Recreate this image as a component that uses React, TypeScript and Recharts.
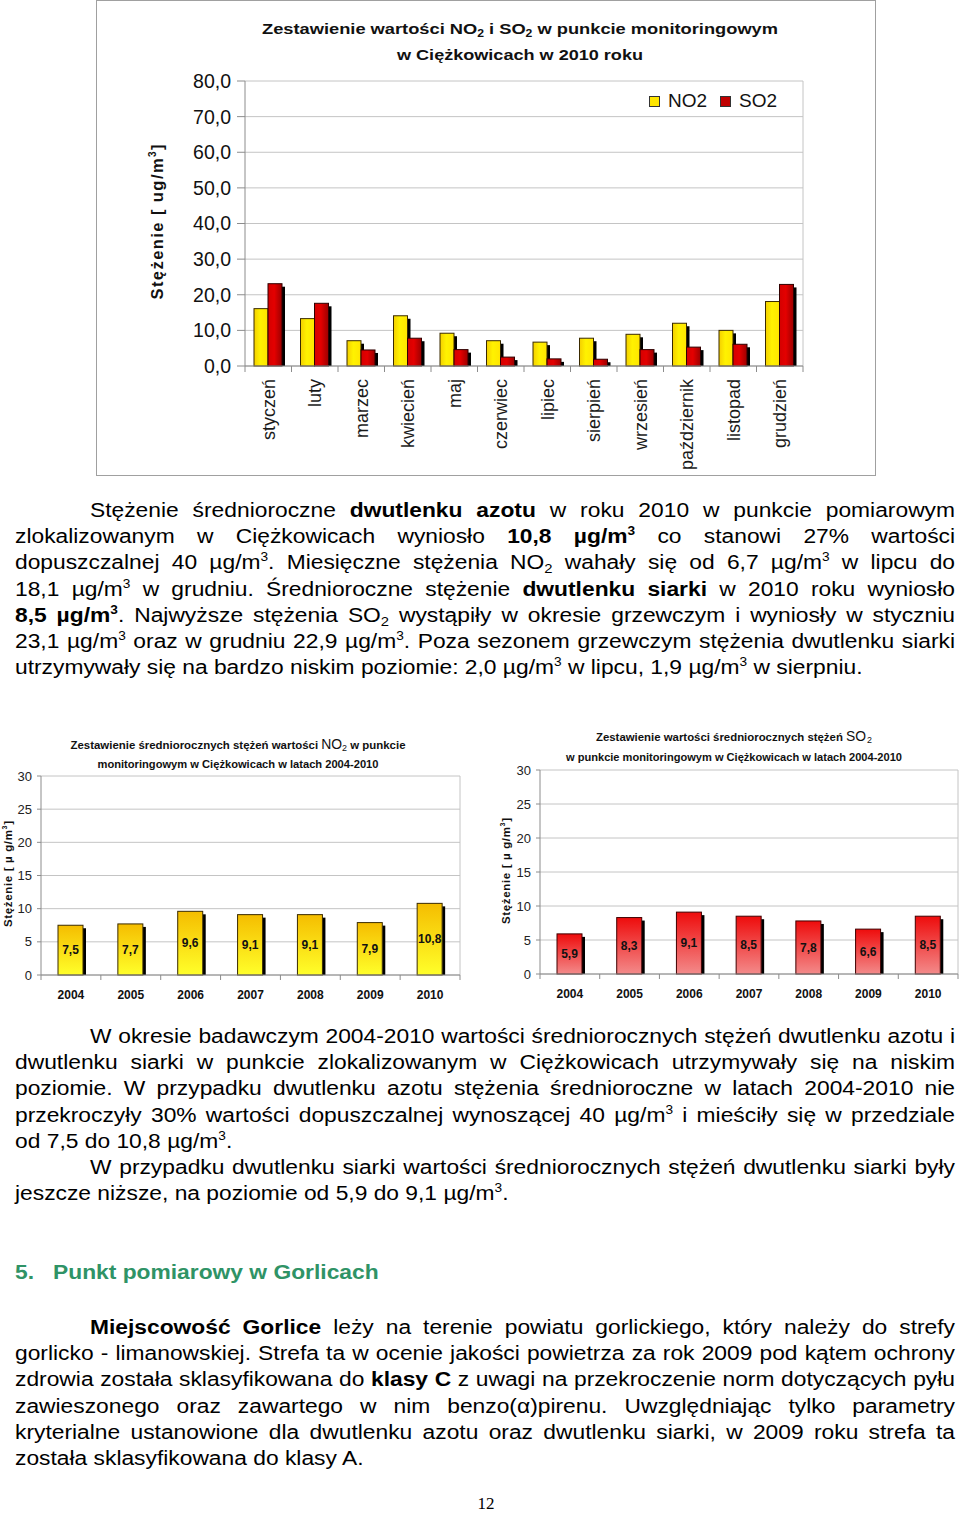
import React from 'react';
import { Bar, BarChart, CartesianGrid, LabelList, Legend, XAxis, YAxis } from 'recharts';

const months = [
  'styczeń',
  'luty',
  'marzec',
  'kwiecień',
  'maj',
  'czerwiec',
  'lipiec',
  'sierpień',
  'wrzesień',
  'październik',
  'listopad',
  'grudzień',
];
const no2Monthly = [16.1, 13.3, 7.1, 14.1, 9.2, 7.1, 6.7, 7.8, 8.9, 12.0, 10.0, 18.1];
const so2Monthly = [23.1, 17.6, 4.5, 7.8, 4.6, 2.5, 2.0, 1.9, 4.6, 5.3, 6.1, 22.9];
const monthlyTicks = [0, 10, 20, 30, 40, 50, 60, 70, 80];

const years = ['2004', '2005', '2006', '2007', '2008', '2009', '2010'];
const no2Annual = [7.5, 7.7, 9.6, 9.1, 9.1, 7.9, 10.8];
const so2Annual = [5.9, 8.3, 9.1, 8.5, 7.8, 6.6, 8.5];
const annualTicks = [0, 5, 10, 15, 20, 25, 30];

const FONT = "'Liberation Sans', Arial, Helvetica, sans-serif";
const NARROW = "'Liberation Sans Narrow', 'Liberation Sans', Arial, sans-serif";
const AXIS = '#8c8c8c';
const GRID = '#c4c4c4';
// tekst w oryginale jest lekko rozciągnięty w poziomie
const STRETCH = 1.14;

const monthlyRows = months.map((month, i) => ({ month, no2: no2Monthly[i], so2: so2Monthly[i] }));
const no2Rows = years.map((year, i) => ({ year, value: no2Annual[i] }));
const so2Rows = years.map((year, i) => ({ year, value: so2Annual[i] }));

const comma1 = (v: number) => v.toFixed(1).replace('.', ',');
const comma = (v: number) => String(v).replace('.', ',');

const rightBorder = ({ offset }: any) => [offset.left + offset.width];

// kolumna 3D: czarny bok z prawej strony
const column3D = (gradientId: string, depth: number, edge: string) => (props: any) => {
  const { x, y, width, height } = props;
  if (!height || height <= 0) return <g />;
  return (
    <g>
      <rect x={x + width} y={y + depth} width={depth} height={height - depth} fill="#000" />
      <rect x={x} y={y} width={width} height={height} fill={`url(#${gradientId})`} stroke={edge} strokeWidth={1} />
    </g>
  );
};

const MonthTick = (props: any) => {
  const { x, y, payload, index, visibleTicksCount, width } = props;
  const half = payload?.offset || width / visibleTicksCount / 2;
  return (
    <g>
      <line x1={x - half} x2={x - half} y1={y - 8} y2={y - 2} stroke={AXIS} />
      {index === visibleTicksCount - 1 && <line x1={x + half} x2={x + half} y1={y - 8} y2={y - 2} stroke={AXIS} />}
      <text
        x={x}
        y={y + 5}
        transform={`rotate(-90, ${x}, ${y + 5})`}
        textAnchor="end"
        dy="0.35em"
        fontSize={18}
        fontFamily={FONT}
        fill="#1a1a1a"
      >
        {payload.value}
      </text>
    </g>
  );
};

const YearTick = (props: any) => {
  const { x, y, payload, index, visibleTicksCount, width } = props;
  const half = payload?.offset || width / visibleTicksCount / 2;
  return (
    <g>
      <line x1={x - half} x2={x - half} y1={y - 7} y2={y - 2} stroke={AXIS} />
      {index === visibleTicksCount - 1 && <line x1={x + half} x2={x + half} y1={y - 7} y2={y - 2} stroke={AXIS} />}
      <text x={x} y={y + 13} textAnchor="middle" dy="0.35em" fontSize={12} fontWeight="bold" fontFamily={NARROW} fill="#111">
        {payload.value}
      </text>
    </g>
  );
};

const MonthlyLegend = (props: any) => (
  <div style={{ display: 'flex', fontFamily: FONT, fontSize: 19, color: '#111', lineHeight: '22px' }}>
    {(props.payload || []).map((entry: any) => (
      <span key={entry.value} style={{ display: 'flex', alignItems: 'center', marginRight: 13 }}>
        <span
          style={{
            display: 'inline-block',
            width: 9,
            height: 9,
            background: entry.color,
            border: '1px solid #333',
            marginRight: 8,
          }}
        />
        {entry.value}
      </span>
    ))}
  </div>
);

const MonthlyChart = () => (
  <div style={{ position: 'absolute', left: 96, top: 0, width: 779, height: 475 }}>
    <BarChart
      width={779}
      height={475}
      data={monthlyRows}
      margin={{ top: 81, right: 72, bottom: 9, left: 79 }}
      barGap={0}
      barSize={14}
    >
      <defs>
        <linearGradient id="no2Month" x1="0" y1="0" x2="1" y2="0">
          <stop offset="0" stopColor="#f4cf00" />
          <stop offset="0.45" stopColor="#fff200" />
          <stop offset="1" stopColor="#ffe500" />
        </linearGradient>
        <linearGradient id="so2Month" x1="0" y1="0" x2="1" y2="0">
          <stop offset="0" stopColor="#d40000" />
          <stop offset="0.45" stopColor="#e40000" />
          <stop offset="1" stopColor="#9c0000" />
        </linearGradient>
      </defs>
      <CartesianGrid stroke={GRID} verticalCoordinatesGenerator={rightBorder} />
      <XAxis
        dataKey="month"
        interval={0}
        height={100}
        tickLine={false}
        axisLine={{ stroke: AXIS }}
        tick={MonthTick}
      />
      <YAxis
        domain={[0, 80]}
        ticks={monthlyTicks}
        interval={0}
        width={70}
        tickSize={8}
        tickMargin={6}
        tickFormatter={comma1}
        tick={{ fontSize: 19.5, fill: '#111', fontFamily: FONT }}
        axisLine={{ stroke: AXIS }}
        tickLine={{ stroke: AXIS }}
      />
      <Legend
        layout="horizontal"
        verticalAlign="middle"
        align="center"
        content={MonthlyLegend}
        wrapperStyle={{ top: 90, left: 553, width: 'auto', height: 'auto' }}
      />
      <Bar dataKey="no2" name="NO2" fill="#ffe600" shape={column3D('no2Month', 3, '#3a2a00')} isAnimationActive={false} />
      <Bar dataKey="so2" name="SO2" fill="#c00000" shape={column3D('so2Month', 3, '#300000')} isAnimationActive={false} />
    </BarChart>
  </div>
);

interface AnnualChartProps {
  rows: { year: string; value: number }[];
  left: number;
  top: number;
  height: number;
  plotTop: number;
  plotBottom: number;
  yAxisWidth: number;
  gradientId: string;
  colors: [string, string];
  edge: string;
}

const AnnualChart = ({ rows, left, top, height, plotTop, plotBottom, yAxisWidth, gradientId, colors, edge }: AnnualChartProps) => (
  <div style={{ position: 'absolute', left, top, width: 462, height }}>
    <BarChart
      width={462}
      height={height}
      data={rows}
      margin={{ top: plotTop, right: 2, bottom: height - plotBottom - 30, left: 0 }}
      barSize={25}
    >
      <defs>
        <linearGradient id={gradientId} x1="0" y1="0" x2="0" y2="1">
          <stop offset="0" stopColor={colors[0]} />
          <stop offset="1" stopColor={colors[1]} />
        </linearGradient>
      </defs>
      <CartesianGrid stroke={GRID} verticalCoordinatesGenerator={rightBorder} />
      <XAxis dataKey="year" interval={0} height={30} tickLine={false} tickSize={5} tickMargin={2} axisLine={{ stroke: AXIS }} tick={YearTick} />
      <YAxis
        domain={[0, 30]}
        ticks={annualTicks}
        interval={0}
        width={yAxisWidth}
        tickSize={4}
        tickMargin={5}
        tick={{ fontSize: 13, fill: '#222', fontFamily: NARROW }}
        axisLine={{ stroke: AXIS }}
        tickLine={{ stroke: AXIS }}
      />
      <Bar dataKey="value" fill={colors[0]} shape={column3D(gradientId, 3, edge)} isAnimationActive={false}>
        <LabelList
          dataKey="value"
          position="center"
          formatter={(v: any) => comma(Number(v))}
          style={{ fontSize: 12, fontWeight: 'bold', fontFamily: NARROW, fill: '#111' }}
        />
      </Bar>
    </BarChart>
  </div>
);

const Sup = ({ children }: { children: React.ReactNode }) => (
  <sup style={{ fontSize: 12, lineHeight: 0, verticalAlign: 'baseline', position: 'relative', top: -8 }}>{children}</sup>
);
const Sub = ({ children }: { children: React.ReactNode }) => (
  <sub style={{ fontSize: 13, lineHeight: 0, verticalAlign: 'baseline', position: 'relative', top: 4 }}>{children}</sub>
);

const Ln = ({ children, last, indent }: { children: React.ReactNode; last?: boolean; indent?: boolean }) => (
  <div
    style={{
      textAlign: last ? 'left' : 'justify',
      textAlignLast: last ? 'left' : 'justify',
      paddingLeft: indent ? 75 / STRETCH : 0,
      height: 26.2,
    }}
  >
    {children}
  </div>
);

const Para = ({ top, children }: { top: number; children: React.ReactNode }) => (
  <div
    style={{
      position: 'absolute',
      left: 15,
      top,
      width: 940 / STRETCH,
      transform: `scaleX(${STRETCH})`,
      transformOrigin: '0 0',
      fontFamily: FONT,
      fontSize: 20,
      lineHeight: '26.2px',
      color: '#000',
    }}
  >
    {children}
  </div>
);

const ug = (
  <>
    µg/m<Sup>3</Sup>
  </>
);

export default function App() {
  return (
    <div style={{ position: 'absolute', left: 0, top: 0, width: 960, height: 1514, background: '#fff', overflow: 'hidden' }}>
      <div
        style={{
          position: 'absolute',
          left: 96,
          top: 0,
          width: 780,
          height: 476,
          border: '1px solid #a0a0a0',
          boxSizing: 'border-box',
        }}
      />
      <MonthlyChart />
      <AnnualChart
        rows={no2Rows}
        left={0}
        top={720}
        height={290}
        plotTop={56}
        plotBottom={255}
        yAxisWidth={41}
        gradientId="no2Year"
        colors={['#f5bd00', '#ffff2a']}
        edge="#3a2a00"
      />
      <AnnualChart
        rows={so2Rows}
        left={498}
        top={715}
        height={295}
        plotTop={55}
        plotBottom={259}
        yAxisWidth={42}
        gradientId="so2Year"
        colors={['#ee0c0c', '#f38a8a']}
        edge="#400000"
      />

      <svg width={960} height={1514} style={{ position: 'absolute', left: 0, top: 0, pointerEvents: 'none' }}>
        <g fontFamily={NARROW} fontWeight="bold" fill="#111" textAnchor="middle">
          <text x={520} y={34} fontSize={15} textLength={516} lengthAdjust="spacingAndGlyphs">
            Zestawienie wartości NO
            <tspan fontSize={10} dy={3}>2</tspan>
            <tspan dy={-3}> i SO</tspan>
            <tspan fontSize={10} dy={3}>2</tspan>
            <tspan dy={-3}> w punkcie monitoringowym</tspan>
          </text>
          <text x={520} y={60} fontSize={15} textLength={246} lengthAdjust="spacingAndGlyphs">
            w Ciężkowicach w 2010 roku
          </text>
          <text
            x={157}
            y={222}
            fontSize={16.5}
            transform="rotate(-90, 157, 222)"
            dy="0.35em"
            fontFamily={FONT}
            textLength={155}
            lengthAdjust="spacing"
          >
            Stężenie [  ug/m
            <tspan fontSize={10} dy={-7}>3</tspan>
            <tspan dy={7}>]</tspan>
          </text>

          <text x={238} y={749} fontSize={11.5} textLength={335} lengthAdjust="spacingAndGlyphs">
            Zestawienie średniorocznych stężeń wartości <tspan fontSize={14} fontWeight="normal">NO</tspan>
            <tspan fontSize={9} dy={2} fontWeight="normal">2</tspan>
            <tspan dy={-2}> w punkcie</tspan>
          </text>
          <text x={238} y={768} fontSize={11.5} textLength={281} lengthAdjust="spacingAndGlyphs">
            monitoringowym w Ciężkowicach w latach 2004-2010
          </text>
          <text
            x={8}
            y={874}
            fontSize={11.5}
            transform="rotate(-90, 8, 874)"
            dy="0.35em"
            textLength={106}
            lengthAdjust="spacing"
          >
            Stężenie [  µ g/m
            <tspan fontSize={7} dy={-5}>3</tspan>
            <tspan dy={5}>]</tspan>
          </text>

          <text x={734} y={741} fontSize={11.5} textLength={276} lengthAdjust="spacingAndGlyphs">
            Zestawienie wartości średniorocznych stężeń <tspan fontSize={14} fontWeight="normal">SO</tspan>
            <tspan fontSize={9} dx={1} dy={2} fontWeight="normal">2</tspan>
          </text>
          <text x={734} y={761} fontSize={11.5} textLength={336} lengthAdjust="spacingAndGlyphs">
            w punkcie monitoringowym w Ciężkowicach w latach 2004-2010
          </text>
          <text
            x={506}
            y={871}
            fontSize={11.5}
            transform="rotate(-90, 506, 871)"
            dy="0.35em"
            textLength={106}
            lengthAdjust="spacing"
          >
            Stężenie [  µ g/m
            <tspan fontSize={7} dy={-5}>3</tspan>
            <tspan dy={5}>]</tspan>
          </text>
        </g>
      </svg>

      <Para top={497}>
        <Ln indent>
          Stężenie średnioroczne <b>dwutlenku azotu</b> w roku 2010 w punkcie pomiarowym
        </Ln>
        <Ln>
          zlokalizowanym w Ciężkowicach wyniosło <b>10,8 µg/m<Sup>3</Sup></b> co stanowi 27% wartości
        </Ln>
        <Ln>
          dopuszczalnej 40 {ug}. Miesięczne stężenia NO<Sub>2</Sub> wahały się od 6,7 {ug} w lipcu do
        </Ln>
        <Ln>
          18,1 {ug} w grudniu. Średnioroczne stężenie <b>dwutlenku siarki</b> w 2010 roku wyniosło
        </Ln>
        <Ln>
          <b>8,5 µg/m<Sup>3</Sup></b>. Najwyższe stężenia SO<Sub>2</Sub> wystąpiły w okresie grzewczym i wyniosły w styczniu
        </Ln>
        <Ln>
          23,1 {ug} oraz w grudniu 22,9 {ug}. Poza sezonem grzewczym stężenia dwutlenku siarki
        </Ln>
        <Ln last>
          utrzymywały się na bardzo niskim poziomie: 2,0 {ug} w lipcu, 1,9 {ug} w sierpniu.
        </Ln>
      </Para>

      <Para top={1023}>
        <Ln indent>W okresie badawczym 2004-2010 wartości średniorocznych stężeń dwutlenku azotu i</Ln>
        <Ln>dwutlenku siarki w punkcie zlokalizowanym w Ciężkowicach utrzymywały się na niskim</Ln>
        <Ln>poziomie. W przypadku dwutlenku azotu stężenia średnioroczne w latach 2004-2010 nie</Ln>
        <Ln>przekroczyły 30% wartości dopuszczalnej wynoszącej 40 {ug} i mieściły się w przedziale</Ln>
        <Ln last>od 7,5 do 10,8 {ug}.</Ln>
        <Ln indent>W przypadku dwutlenku siarki wartości średniorocznych stężeń dwutlenku siarki były</Ln>
        <Ln last>jeszcze niższe, na poziomie od 5,9 do 9,1 {ug}.</Ln>
      </Para>

      <div
        style={{
          position: 'absolute',
          left: 15,
          top: 1259,
          transform: `scaleX(${STRETCH})`,
          transformOrigin: '0 0',
          fontFamily: FONT,
          fontSize: 20,
          lineHeight: '26px',
          fontWeight: 'bold',
          color: '#2f9366',
          whiteSpace: 'nowrap',
        }}
      >
        <span style={{ display: 'inline-block', width: 38 / STRETCH }}>5.</span>Punkt pomiarowy w Gorlicach
      </div>

      <Para top={1314}>
        <Ln indent>
          <b>Miejscowość Gorlice</b> leży na terenie powiatu gorlickiego, który należy do strefy
        </Ln>
        <Ln>gorlicko - limanowskiej. Strefa ta w ocenie jakości powietrza za rok 2009 pod kątem ochrony</Ln>
        <Ln>
          zdrowia została sklasyfikowana do <b>klasy C</b> z uwagi na przekroczenie norm dotyczących pyłu
        </Ln>
        <Ln>zawieszonego oraz zawartego w nim benzo(α)pirenu. Uwzględniając tylko parametry</Ln>
        <Ln>kryterialne ustanowione dla dwutlenku azotu oraz dwutlenku siarki, w 2009 roku strefa ta</Ln>
        <Ln last>została sklasyfikowana do klasy A.</Ln>
      </Para>

      <div
        style={{
          position: 'absolute',
          left: 466,
          top: 1495,
          width: 40,
          textAlign: 'center',
          fontFamily: "'Liberation Serif', 'Times New Roman', serif",
          fontSize: 17,
          lineHeight: '17px',
        }}
      >
        12
      </div>
    </div>
  );
}
